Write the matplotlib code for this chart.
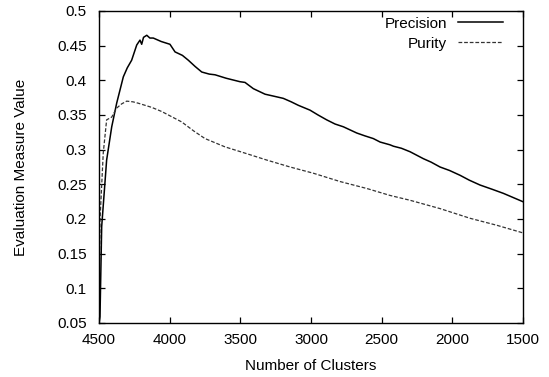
import matplotlib
matplotlib.use("Agg")
import matplotlib.pyplot as plt

plt.rcParams['font.family'] = ['Liberation Sans', 'DejaVu Sans']

# Data
prec_x = [4500, 4493, 4481, 4446, 4410, 4375, 4328, 4300, 4269, 4233, 4210, 4198, 4185,
          4162, 4140, 4116, 4060, 3998, 3962, 3910, 3868, 3820, 3773, 3720, 3679, 3600,
          3502, 3467, 3408, 3325, 3260, 3196, 3140, 3090, 3007, 2950, 2889, 2830, 2771,
          2676, 2620, 2559, 2511, 2441, 2417, 2360, 2299, 2205, 2150, 2087, 2020, 1945,
          1880, 1804, 1720, 1639, 1570, 1501]
prec_y = [0.050, 0.059, 0.189, 0.285, 0.333, 0.367, 0.405, 0.418, 0.429, 0.451, 0.458, 0.452, 0.462,
          0.465, 0.461, 0.461, 0.456, 0.452, 0.441, 0.436, 0.429, 0.420, 0.412, 0.409, 0.408, 0.403,
          0.398, 0.397, 0.388, 0.380, 0.377, 0.374, 0.369, 0.364, 0.357, 0.350, 0.343, 0.337, 0.333,
          0.324, 0.320, 0.316, 0.311, 0.307, 0.305, 0.302, 0.297, 0.287, 0.282, 0.275, 0.270, 0.263,
          0.256, 0.249, 0.243, 0.237, 0.231, 0.225]

pur_x = [4500, 4493, 4470, 4446, 4410, 4375, 4340, 4304, 4260, 4222, 4127, 4056, 3915,
         3830, 3750, 3608, 3467, 3313, 3148, 2983, 2794, 2605, 2441, 2299, 2087,
         1874, 1686, 1501]
pur_y = [0.050, 0.198, 0.295, 0.343, 0.347, 0.360, 0.366, 0.370, 0.369, 0.367, 0.361, 0.355, 0.340,
         0.327, 0.316, 0.304, 0.295, 0.285, 0.275, 0.266, 0.254, 0.244, 0.234, 0.227, 0.215,
         0.201, 0.191, 0.180]

x_ticks = [4500, 4000, 3500, 3000, 2500, 2000, 1500]
y_ticks = [0.05, 0.1, 0.15, 0.2, 0.25, 0.3, 0.35, 0.4, 0.45, 0.5]
y_tick_labels = ['0.05', '0.1', '0.15', '0.2', '0.25', '0.3', '0.35', '0.4', '0.45', '0.5']

FS = 11

fig = plt.figure(figsize=(5.49, 3.77), dpi=100)
ax = fig.add_axes([99/549, 1-323/377, (523-99)/549, (323-11)/377])

ax.plot(prec_x, prec_y, color='black', lw=1.1, label='Precision')
ax.plot(pur_x, pur_y, color='#333333', lw=0.9, ls=(0, (3, 1.5)), label='Purity')

ax.set_xlim(4500, 1500)
ax.set_ylim(0.05, 0.5)
ax.set_xticks(x_ticks)
ax.set_xticklabels([str(v) for v in x_ticks])
ax.set_yticks(y_ticks)
ax.set_yticklabels(y_tick_labels)
ax.tick_params(direction='in', length=4, width=0.9, top=True, right=True,
               labelsize=FS, colors='black')
ax.tick_params(axis='x', pad=7.5)
ax.tick_params(axis='y', pad=9)
for s in ax.spines.values():
    s.set_linewidth(1.0)

ax.set_xlabel('Number of Clusters', fontsize=FS)
ax.set_ylabel('Evaluation Measure Value', fontsize=FS)
ax.xaxis.set_label_coords(0.5, -0.115)
ax.yaxis.set_label_coords(-0.168, 0.5)

leg = ax.legend(loc='upper right', frameon=False, markerfirst=False, fontsize=FS,
                handlelength=2.95, handletextpad=0.72, labelspacing=0.4,
                borderaxespad=0.0, borderpad=0.0, bbox_to_anchor=(0.953, 0.982))

fig.savefig('out.png', dpi=100)
